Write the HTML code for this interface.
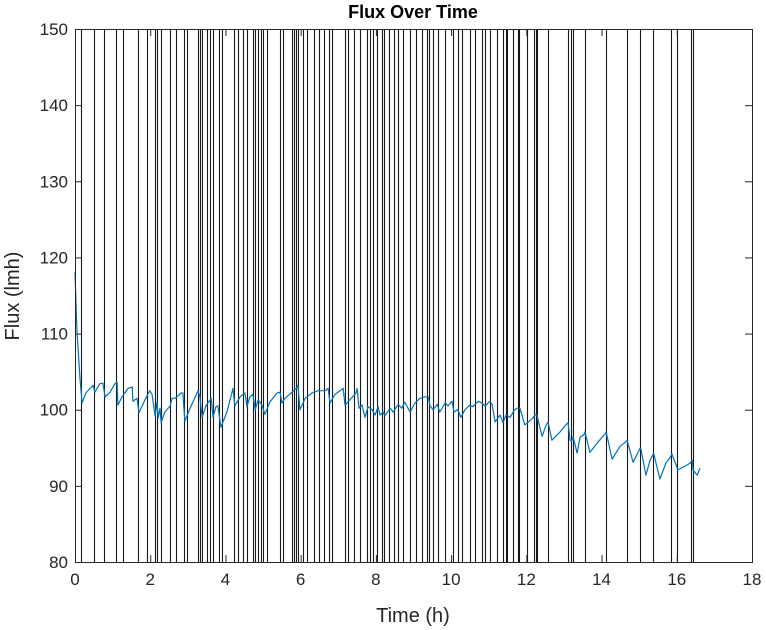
<!DOCTYPE html>
<html><head><meta charset="utf-8"><style>
body{margin:0;background:#fff;}
svg{display:block;font-family:"Liberation Sans",Arial,sans-serif;}
</style></head><body>
<svg id="chart" width="766" height="630" viewBox="0 0 766 630" xmlns="http://www.w3.org/2000/svg">
<rect x="0" y="0" width="766" height="630" fill="#fff"/>
<g id="vlines"></g>
<g id="series"></g>
<g id="axes"></g>
<text x="413" y="18" text-anchor="middle" font-size="18" font-weight="bold" fill="#000">Flux Over Time</text>
<text x="413" y="622" text-anchor="middle" font-size="20" fill="#262626">Time (h)</text>
<text transform="translate(19,296) rotate(-90)" text-anchor="middle" font-size="20" fill="#262626">Flux (lmh)</text>
</svg>
<script>
const xTicks=[0,2,4,6,8,10,12,14,16,18];
const yTicks=[80,90,100,110,120,130,140,150];
const eventTimes=[.16,.51,.77,1.09,1.28,1.68,1.91,2.13,2.18,2.29,2.53,2.69,2.90,2.98,3.27,3.32,3.38,3.51,3.59,3.67,3.83,3.91,4.23,4.33,4.47,4.57,4.73,4.79,4.87,4.95,5.00,5.10,5.45,5.53,5.77,5.82,5.88,5.93,6.06,6.17,6.35,6.49,6.62,6.75,6.83,7.18,7.26,7.42,7.58,7.76,7.84,7.92,8.03,8.16,8.22,8.35,8.48,8.59,8.72,8.91,9.07,9.23,9.36,9.41,9.52,9.65,9.84,10.05,10.18,10.29,10.50,10.64,10.82,10.90,11.03,11.22,11.38,11.46,11.49,11.65,11.78,11.81,12.02,12.20,12.26,12.28,12.58,13.11,13.19,13.24,13.56,14.12,14.68,15.02,15.37,15.85,16.01,16.38,16.43];
const fluxTime=[0,.05,.13,.19,.29,.40,.48,.53,.66,.74,.80,.93,1.06,1.12,1.14,1.25,1.41,1.52,1.54,1.65,1.70,1.86,1.99,2.05,2.13,2.18,2.21,2.26,2.29,2.39,2.53,2.58,2.66,2.82,2.87,2.92,3.06,3.27,3.32,3.38,3.48,3.62,3.67,3.75,3.80,3.88,4.04,4.20,4.25,4.39,4.52,4.57,4.65,4.73,4.79,4.87,4.97,5.05,5.18,5.37,5.45,5.50,5.58,5.77,5.88,5.93,5.98,6.12,6.30,6.46,6.65,6.73,6.78,6.91,7.13,7.18,7.31,7.47,7.50,7.55,7.63,7.71,7.79,7.90,7.98,8.06,8.11,8.19,8.24,8.38,8.46,8.59,8.69,8.77,8.91,9.04,9.17,9.31,9.39,9.44,9.52,9.63,9.70,9.84,9.92,10.02,10.08,10.18,10.26,10.37,10.50,10.58,10.72,10.82,10.90,11.03,11.09,11.17,11.30,11.38,11.46,11.57,11.67,11.75,11.83,11.96,12.15,12.23,12.28,12.42,12.52,12.58,12.68,12.90,13.05,13.11,13.16,13.21,13.24,13.35,13.43,13.53,13.56,13.69,13.91,14.09,14.12,14.28,14.49,14.65,14.68,14.84,14.97,15.02,15.05,15.18,15.29,15.37,15.39,15.55,15.71,15.82,15.87,16.03,16.22,16.36,16.41,16.43,16.54,16.62];
const fluxValue=[118.1,110.5,104.2,100.9,102.2,102.8,103.2,102.3,103.4,103.5,101.7,102.3,103.4,103.6,100.6,101.7,102.8,103.0,101.1,101.5,99.6,101.3,102.5,102.0,99.2,101.0,98.9,100.2,98.3,99.7,100.5,101.5,101.5,102.2,102.2,98.5,100.2,102.5,101.7,99.0,100.5,101.5,99.0,100.4,100.5,97.7,99.7,102.8,100.5,101.7,102.2,100.4,101.7,102.0,100.0,101.3,100.6,99.4,101.0,102.2,102.3,100.9,101.5,102.3,102.8,103.2,100.0,101.5,102.2,102.5,102.5,102.8,100.9,102.0,102.8,100.6,101.3,102.2,102.8,100.2,100.6,99.0,100.4,100.0,99.3,100.4,99.3,99.7,99.2,100.2,99.7,100.7,100.2,101.0,99.7,100.9,101.5,101.7,101.7,100.5,100.0,100.7,99.7,100.9,100.5,101.1,99.7,100.0,99.0,100.0,100.6,100.4,101.1,100.9,100.5,101.1,100.7,98.4,99.3,98.3,99.3,99.0,99.9,100.2,100.2,98.0,98.8,99.3,99.3,96.5,97.9,98.4,96.0,97.1,98.0,98.3,96.0,95.9,96.5,94.3,96.4,96.7,97.1,94.4,95.8,96.8,97.1,93.5,95.2,95.8,96.0,93.1,94.4,94.9,94.8,91.4,93.4,94.1,94.2,90.9,93.0,93.7,94.2,92.1,92.6,93.0,93.4,92.1,91.4,92.3,92.7];

const NS="http://www.w3.org/2000/svg";
const L=75,R=752,T=29,B=562;
const xS=t=>L+(t-0)/(18-0)*(R-L);
const yS=v=>B-(v-80)/(150-80)*(B-T);
function mk(tag,attrs,parent){const e=document.createElementNS(NS,tag);for(const k in attrs)e.setAttribute(k,attrs[k]);parent.appendChild(e);return e;}

const vg=document.getElementById('vlines');
eventTimes.forEach(t=>{
  const x=Math.round(xS(t))+0.5;
  const l=mk('line',{x1:x,x2:x,y1:T,y2:B,stroke:'#000','stroke-width':1.1,'stroke-opacity':0.9},vg);
  
  
});

const sg=document.getElementById('series');
const d=fluxTime.map((t,i)=>(i?'L':'M')+xS(t).toFixed(1)+','+yS(fluxValue[i]).toFixed(1)).join('');
const p=mk('path',{d:d,fill:'none',stroke:'#0072BD','stroke-width':1.2,'stroke-linejoin':'round'},sg);



const ag=document.getElementById('axes');
const box=mk('rect',{x:L+0.5,y:T+0.5,width:R-L,height:B-T,fill:'none',stroke:'#262626','stroke-width':1},ag);


xTicks.forEach(t=>{
  const x=xS(t)+0.5;
  mk('line',{x1:x,x2:x,y1:B,y2:B-7,stroke:'#262626'},ag);
  mk('line',{x1:x,x2:x,y1:T,y2:T+7,stroke:'#262626'},ag);
  const tx=mk('text',{x:xS(t),y:B+23,'text-anchor':'middle','font-size':17,fill:'#262626'},ag);
  tx.textContent=t;
  
  
});
yTicks.forEach(v=>{
  const y=yS(v)+0.5;
  mk('line',{x1:L,x2:L+7,y1:y,y2:y,stroke:'#262626'},ag);
  mk('line',{x1:R-7,x2:R,y1:y,y2:y,stroke:'#262626'},ag);
  const tx=mk('text',{x:L-7,y:yS(v)+6,'text-anchor':'end','font-size':17,fill:'#262626'},ag);
  tx.textContent=v;
  
  
});
</script>
</body></html>
